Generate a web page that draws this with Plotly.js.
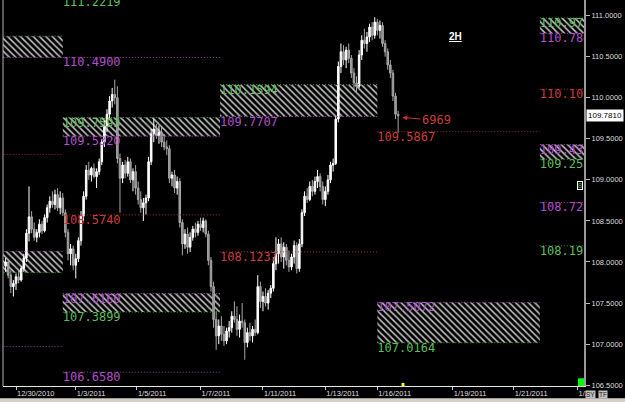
<!DOCTYPE html>
<html>
<head>
<meta charset="utf-8">
<script src="https://cdn.plot.ly/plotly-3.0.1.min.js"></script>
<style>html,body{margin:0;padding:0;background:#000;}#chart{width:625px;height:402px;}</style>
</head>
<body>
<div id="chart"></div>
<script>
// ---- 2H candles (bar index order) ----
const opens = [107.95,108.00,107.84,107.70,107.74,107.82,107.78,107.92,108.05,108.35,
108.55,108.40,108.30,108.36,108.46,108.38,108.54,108.66,108.74,108.70,
108.82,108.66,108.78,108.60,108.36,108.10,108.16,107.96,108.04,108.26,
108.56,108.80,109.12,109.06,109.14,109.04,109.10,109.22,109.46,109.66,
109.80,109.96,110.04,110.00,109.26,109.02,109.18,109.08,109.22,109.00,
109.10,108.90,108.76,108.66,108.72,108.78,109.22,109.56,109.62,109.54,
109.58,109.46,109.40,109.38,109.02,109.06,108.90,108.98,108.48,108.22,
108.34,108.18,108.30,108.40,108.36,108.46,108.42,108.50,108.34,108.02,
107.70,107.30,107.10,107.22,107.12,107.04,107.16,107.20,107.34,107.30,
107.18,107.28,107.26,107.02,107.14,107.10,107.18,107.14,107.70,107.52,
107.58,107.50,107.62,107.68,107.98,108.10,108.22,108.06,108.18,108.02,
107.94,108.06,108.20,107.92,108.22,108.60,108.80,108.76,108.92,108.86,
108.98,109.04,108.92,108.76,108.86,109.00,109.18,109.20,109.74,110.38,
110.56,110.46,110.58,110.48,110.30,110.18,110.14,110.52,110.70,110.66,
110.74,110.86,110.76,110.92,110.82,110.88,110.66,110.56,110.40,110.30,
110.02,109.80];
const highs = [108.05,108.03,107.90,107.78,107.86,107.90,107.95,108.10,108.40,108.92,
108.62,108.48,108.40,108.52,108.50,108.58,108.70,108.80,108.86,108.88,
108.90,108.86,108.84,108.64,108.40,108.22,108.20,108.10,108.30,108.62,
108.86,109.18,109.22,109.16,109.20,109.14,109.26,109.50,109.72,109.86,
110.02,110.12,110.22,110.14,109.32,109.22,109.24,109.28,109.26,109.14,
109.18,108.98,108.86,108.78,108.82,109.28,109.62,109.74,109.68,109.66,
109.64,109.56,109.48,109.42,109.10,109.12,109.04,109.02,108.52,108.40,
108.42,108.36,108.44,108.48,108.50,108.54,108.54,108.52,108.38,108.06,
107.76,107.40,107.30,107.34,107.22,107.20,107.28,107.40,107.52,107.46,
107.36,107.50,107.30,107.20,107.26,107.22,107.30,107.84,107.76,107.64,
107.68,107.66,107.72,108.06,108.30,108.28,108.30,108.24,108.22,108.14,
108.10,108.26,108.24,108.28,108.64,108.86,108.90,108.98,109.00,109.04,
109.12,109.08,108.98,108.92,109.06,109.22,109.26,109.78,110.44,110.66,
110.64,110.62,110.66,110.52,110.36,110.26,110.58,110.76,110.84,110.80,
110.90,110.92,110.98,110.96,110.94,110.92,110.70,110.60,110.46,110.34,
110.06,109.84];
const lows = [107.88,107.80,107.62,107.58,107.66,107.74,107.76,107.88,108.00,108.25,
108.35,108.26,108.24,108.30,108.34,108.36,108.48,108.60,108.66,108.64,
108.62,108.58,108.56,108.30,108.02,107.96,107.90,107.80,108.00,108.20,
108.50,108.76,109.00,108.98,109.02,108.90,109.06,109.18,109.40,109.58,
109.74,109.88,109.92,109.20,108.60,108.96,109.02,109.04,108.96,108.86,
108.82,108.70,108.60,108.50,108.58,108.74,109.18,109.46,109.50,109.44,
109.40,109.36,109.30,108.96,108.92,108.84,108.82,108.42,108.08,108.16,
108.10,108.12,108.26,108.30,108.32,108.38,108.36,108.30,107.96,107.64,
107.20,106.93,107.00,107.04,106.98,107.00,107.08,107.14,107.26,107.10,
107.08,107.20,106.81,106.96,107.04,107.02,107.10,107.12,107.44,107.40,
107.46,107.42,107.56,107.64,107.90,107.98,108.00,107.92,107.96,107.88,
107.90,107.98,107.86,107.88,108.18,108.56,108.72,108.74,108.80,108.82,
108.90,108.86,108.70,108.68,108.82,108.96,109.10,109.18,109.70,110.30,
110.40,110.36,110.42,110.24,110.10,110.06,110.12,110.46,110.60,110.56,
110.68,110.70,110.72,110.76,110.72,110.62,110.50,110.34,110.24,109.96,
109.74,109.57];
const closes = [108.00,107.84,107.70,107.74,107.82,107.78,107.92,108.05,108.35,108.55,
108.40,108.30,108.36,108.46,108.38,108.54,108.66,108.74,108.70,108.82,
108.66,108.78,108.60,108.36,108.10,108.16,107.96,108.04,108.26,108.56,
108.80,109.12,109.06,109.14,109.04,109.10,109.22,109.46,109.66,109.80,
109.96,110.04,110.00,109.26,109.02,109.18,109.08,109.22,109.00,109.10,
108.90,108.76,108.66,108.72,108.78,109.22,109.56,109.62,109.54,109.58,
109.46,109.40,109.38,109.02,109.06,108.90,108.98,108.48,108.22,108.34,
108.18,108.30,108.40,108.36,108.46,108.42,108.50,108.34,108.02,107.70,
107.30,107.10,107.22,107.12,107.04,107.16,107.20,107.34,107.30,107.18,
107.28,107.26,107.02,107.14,107.10,107.18,107.14,107.70,107.52,107.58,
107.50,107.62,107.68,107.98,108.10,108.22,108.06,108.18,108.02,107.94,
108.06,108.20,107.92,108.22,108.60,108.80,108.76,108.92,108.86,108.98,
109.04,108.92,108.76,108.86,109.00,109.18,109.20,109.74,110.38,110.56,
110.46,110.58,110.48,110.30,110.18,110.14,110.52,110.70,110.66,110.74,
110.86,110.76,110.92,110.82,110.88,110.66,110.56,110.40,110.30,110.02,
109.80,109.781];
const lastPrice = 109.7810;

// ---- date ticks (bar positions) ----
const tickPos  = [4, 27, 50.5, 75, 99, 123, 143, 172, 195.5, 220];
const tickText = ['12/30/2010','1/3/2011','1/5/2011','1/7/2011','1/11/2011','1/13/2011','1/16/2011','1/19/2011','1/21/2011','1/2'];

// ---- level periods (bar positions of period starts / ends) ----
const periodStart = [-25, 22, 82.5, 143, 205.5];
const periodEnd   = [22, 82.5, 143, 205.5, 240];
const periodLabelled = [false, true, true, true, true];

// ---- hatched zones ----
const zonePeriod = [0, 0, 1, 1, 2, 3, 4, 4];
const zoneLow    = [110.49, 107.87, 109.532, 107.3899, 109.7707, 107.0164, 110.7842, 109.2512];
const zoneHigh   = [110.75, 108.13, 109.7593, 107.616, 110.1594, 107.5072, 110.9717, 109.4306];

// ---- dotted levels ----
const levelPeriod = [0,0,0,0,0,0, 1,1,1,1,1,1,1,1, 2,2,2, 3,3,3, 4,4,4,4,4,4,4];
const levelPrice  = [110.75,110.49,109.31,108.13,107.87,106.97,
                     111.2219,110.49,109.7593,109.532,108.574,107.616,107.3899,106.658,
                     110.1594,109.7707,108.1237,
                     109.5867,107.5072,107.0164,
                     110.9717,110.7842,110.1032,109.4306,109.2512,108.7245,108.1972];
const levelKind   = ['g','m','r','m','g','m',
                     'g','m','g','m','r','m','g','m',
                     'g','m','r',
                     'r','m','g',
                     'g','m','r','m','g','m','g'];

const lineColor = {g:'#3c9a3c', m:'#a040b0', r:'#a83030'};
const textColor = {g:'#5cbf5c', m:'#b050c8', r:'#cc3c3c'};
const lcdFont = 'DejaVu Sans Mono, monospace';

const traces = [];
// hatched zones as bars
traces.push({
  type:'bar',
  x: zonePeriod.map(p => (periodStart[p] + periodEnd[p]) / 2),
  width: zonePeriod.map(p => periodEnd[p] - periodStart[p]),
  base: zoneLow,
  y: zoneHigh.map((h, i) => h - zoneLow[i]),
  marker:{color:'rgba(0,0,0,0)', line:{width:0},
    pattern:{shape:'\\', fgcolor:'#c4c4c4', bgcolor:'#000', size:4.5, solidity:0.33}},
  hoverinfo:'skip', showlegend:false
});
// dotted level lines
['g','m','r'].forEach(k => {
  const xs = [], ys = [];
  levelKind.forEach((kk, i) => {
    if (kk !== k) return;
    const p = levelPeriod[i];
    xs.push(periodStart[p], periodEnd[p], null);
    ys.push(levelPrice[i], levelPrice[i], null);
  });
  traces.push({type:'scatter', mode:'lines', x:xs, y:ys,
    line:{color:lineColor[k], width:1, dash:'1px,2px'}, hoverinfo:'skip', showlegend:false});
});
// level labels (at the start of each period that begins inside the chart)
['g','m','r'].forEach(k => {
  const xs = [], ys = [], tx = [];
  levelKind.forEach((kk, i) => {
    if (kk !== k || !periodLabelled[levelPeriod[i]]) return;
    xs.push(periodStart[levelPeriod[i]]);
    ys.push(levelPrice[i]);
    tx.push(levelPrice[i].toFixed(4));
  });
  traces.push({type:'scatter', mode:'text', x:xs, y:ys, text:tx,
    textposition:'bottom right', cliponaxis:true,
    textfont:{family:lcdFont, size:12, color:textColor[k]}, hoverinfo:'skip', showlegend:false});
});
// candles
traces.push({
  type:'candlestick',
  x: closes.map((_, i) => i),
  open: opens, high: highs, low: lows, close: closes,
  increasing:{line:{color:'#ffffff', width:1}, fillcolor:'#ffffff'},
  decreasing:{line:{color:'#a8a8a8', width:1}, fillcolor:'#8c8c8c'},
  hoverinfo:'skip', showlegend:false
});

const layout = {
  width:625, height:402,
  margin:{l:3, r:41, t:0, b:16},
  paper_bgcolor:'#000', plot_bgcolor:'#000',
  barmode:'overlay', boxgap:0.15, showlegend:false,
  font:{family:'Liberation Sans, Arial, sans-serif', color:'#dddddd'},
  xaxis:{range:[-1, 222.5], showgrid:false, zeroline:false,
    showline:true, linecolor:'#e8e8e8', linewidth:1,
    ticks:'outside', ticklen:3, tickcolor:'#cccccc',
    tickmode:'array', tickvals:tickPos, ticktext:tickText,
    ticklabelposition:'outside right',
    tickfont:{size:7.5, color:'#dddddd'},
    rangeslider:{visible:false}, fixedrange:true},
  yaxis:{side:'right', range:[106.49, 111.19], showgrid:false, zeroline:false,
    showline:true, linecolor:'#9a9a9a', linewidth:2,
    ticks:'outside', ticklen:4, tickcolor:'#bbbbbb',
    tick0:106.5, dtick:0.5, tickformat:'.4f',
    tickfont:{size:7.5, color:'#dddddd'}, fixedrange:true},
  shapes:[
    {type:'line', xref:'paper', yref:'paper', x0:0, x1:0, y0:0, y1:1, line:{color:'#b0b0b0', width:1}},
    {type:'rect', xref:'paper', yref:'paper', x0:-0.01, x1:1.08, y0:-0.0315, y1:-0.045, fillcolor:'#d4d0c8', line:{width:0}},
    {type:'rect', xref:'paper', yref:'paper', x0:0.9897, x1:1.0, y0:0, y1:0.02, fillcolor:'#00ff00', line:{width:0}},
    {type:'rect', xref:'paper', yref:'paper', x0:0.686, x1:0.691, y0:0, y1:0.008, fillcolor:'#ffff00', line:{width:0}}
  ],
  annotations:[
    {xref:'paper', yref:'paper', x:0.793, y:0.925, text:'<u><b>2H</b></u>', showarrow:false,
      font:{size:10, color:'#ffffff', family:'Liberation Sans, Arial'}},
    {xref:'paper', yref:'y', x:1.0, y:lastPrice, xanchor:'left', yanchor:'middle', xshift:2,
      text:lastPrice.toFixed(4), showarrow:false, bgcolor:'#ffffff', borderpad:1,
      font:{size:8, color:'#000000'}},
    {x:closes.length + 0.6, y:109.76, text:'6969', showarrow:true, arrowhead:2, arrowsize:1,
      arrowwidth:1, arrowcolor:'#d03030', ax:34, ay:3, xanchor:'center',
      font:{family:lcdFont, size:12, color:'#cc3c3c'}},
    {xref:'paper', yref:'paper', x:0.9985, y:0.52, text:'8', showarrow:false,
      bgcolor:'#000', bordercolor:'#ffffff', borderwidth:1, borderpad:0,
      font:{size:7, color:'#5cbf5c'}},
    {xref:'paper', yref:'paper', x:1.0215, y:-0.0215, yanchor:'middle', text:'SY', showarrow:false,
      bgcolor:'#c0c0c0', borderpad:0, font:{size:6.5, color:'#222'}},
    {xref:'paper', yref:'paper', x:1.0405, y:-0.0215, yanchor:'middle', text:'TF', showarrow:false,
      bgcolor:'#c0c0c0', borderpad:0, font:{size:6.5, color:'#222'}}
  ]
};

Plotly.newPlot('chart', traces, layout, {displayModeBar:false, staticPlot:true});
</script>
</body>
</html>
